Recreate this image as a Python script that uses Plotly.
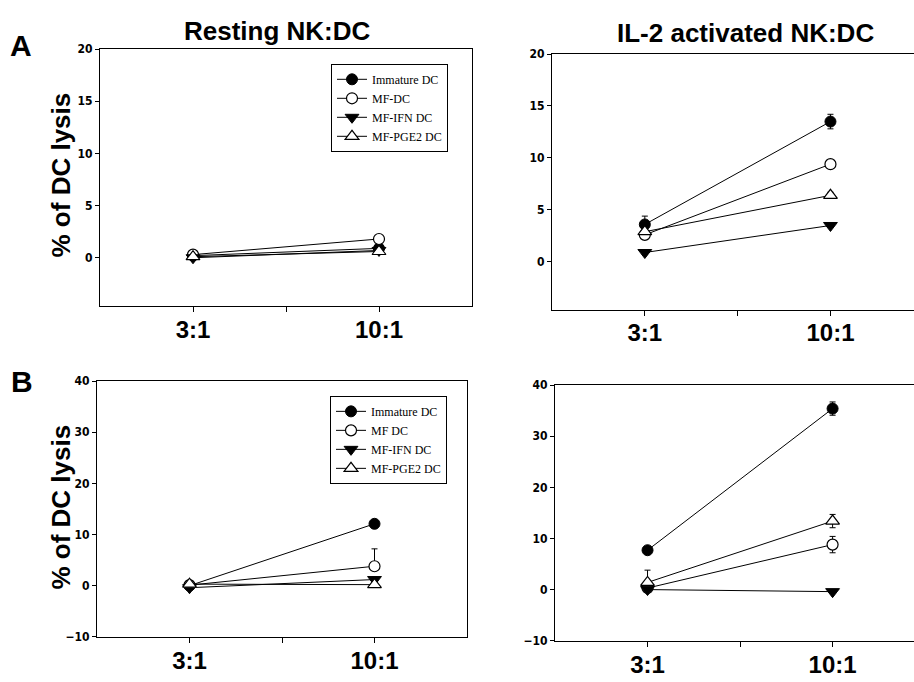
import plotly.graph_objects as go

# ---------------- data ----------------
ratios = ["3:1", "10:1"]
ratio_pos = [0, 1]
series_A = ["Immature DC", "MF-DC", "MF-IFN DC", "MF-PGE2 DC"]
series_B = ["Immature DC", "MF DC", "MF-IFN DC", "MF-PGE2 DC"]

# Panel A, resting NK:DC
a_rest_immature = [0.2, 0.9]
a_rest_mfdc = [0.3, 1.8]
a_rest_ifn = [0.0, 0.7]
a_rest_pge2 = [0.1, 0.6]
a_rest_err_up = [[0.1, 0.2], [0.1, 0.2], [0.1, 0.2], [0.1, 0.2]]
a_rest_err_dn = [[0.1, 0.2], [0.1, 0.2], [0.1, 0.2], [0.1, 0.2]]

# Panel A, IL-2 activated NK:DC
a_il2_immature = [3.6, 13.5]
a_il2_mfdc = [2.6, 9.4]
a_il2_ifn = [0.9, 3.5]
a_il2_pge2 = [2.9, 6.4]
a_il2_err_up = [[0.8, 0.7], [0.3, 0.3], [0.2, 0.2], [0.2, 0.3]]
a_il2_err_dn = [[0.3, 0.7], [0.3, 0.3], [0.2, 0.2], [0.2, 0.3]]

# Panel B, resting NK:DC
b_rest_immature = [0.0, 12.1]
b_rest_mfdc = [0.1, 3.8]
b_rest_ifn = [-0.4, 1.2]
b_rest_pge2 = [0.3, 0.2]
b_rest_err_up = [[0.3, 0.5], [0.3, 3.4], [0.3, 0.5], [0.3, 0.5]]
b_rest_err_dn = [[0.3, 0.5], [0.3, 0.3], [0.3, 0.5], [0.3, 0.5]]

# Panel B, IL-2 activated NK:DC
b_il2_immature = [7.7, 35.4]
b_il2_mfdc = [0.3, 8.8]
b_il2_ifn = [0.0, -0.4]
b_il2_pge2 = [1.4, 13.4]
b_il2_err_up = [[0.5, 1.3], [0.3, 1.6], [0.3, 0.3], [2.4, 1.3]]
b_il2_err_dn = [[0.5, 1.3], [0.3, 1.6], [0.3, 0.3], [0.5, 1.3]]

y_ticks_A = [0, 5, 10, 15, 20]
y_ticks_B = [-10, 0, 10, 20, 30, 40]

# ---------------- styles ----------------
marker_styles = [
    dict(symbol="circle", size=11, color="black", line=dict(color="black", width=1)),
    dict(symbol="circle", size=11, color="white", line=dict(color="black", width=1.2)),
    dict(symbol="triangle-down", size=12, color="black", line=dict(color="black", width=1)),
    dict(symbol="triangle-up", size=12, color="white", line=dict(color="black", width=1.2)),
]

SANS = "Liberation Sans, Arial, sans-serif"
NARROW = "DejaVu Sans Condensed, Liberation Sans Narrow, Arial Narrow, sans-serif"
SERIF = "Liberation Serif, Times New Roman, serif"

fig = go.Figure()

panels = [
    ([a_rest_immature, a_rest_mfdc, a_rest_ifn, a_rest_pge2], a_rest_err_up, a_rest_err_dn,
     "x", "y", series_A, "legend", True),
    ([a_il2_immature, a_il2_mfdc, a_il2_ifn, a_il2_pge2], a_il2_err_up, a_il2_err_dn,
     "x2", "y2", series_A, "legend", False),
    ([b_rest_immature, b_rest_mfdc, b_rest_ifn, b_rest_pge2], b_rest_err_up, b_rest_err_dn,
     "x3", "y3", series_B, "legend2", True),
    ([b_il2_immature, b_il2_mfdc, b_il2_ifn, b_il2_pge2], b_il2_err_up, b_il2_err_dn,
     "x4", "y4", series_B, "legend2", False),
]

for vals, eup, edn, xa, ya, names, leg, show in panels:
    for i, v in enumerate(vals):
        fig.add_trace(go.Scatter(
            x=ratio_pos, y=v, mode="lines+markers", name=names[i],
            xaxis=xa, yaxis=ya, legend=leg, showlegend=show,
            line=dict(color="black", width=1),
            marker=marker_styles[i],
            error_y=dict(type="data", symmetric=False, array=eup[i], arrayminus=edn[i],
                         color="black", thickness=1, width=3),
            cliponaxis=False,
        ))

W, H = 914, 682


def xd(a, b):
    return [a / W, min(b / W, 1.0)]


def yd(top, bottom):
    return [1 - bottom / H, 1 - top / H]


xax_common = dict(
    tickvals=[0, 0.5, 1], ticktext=[ratios[0], "", ratios[1]],
    ticks="outside", ticklen=5, tickcolor="black", tickwidth=1,
    ticklabelstandoff=-3,
    showline=True, linecolor="black", linewidth=1, mirror=True,
    showgrid=False, zeroline=False,
    tickfont=dict(family=SANS, size=24, color="black", weight="bold"),
)
yax_common = dict(
    ticks="outside", ticklen=4, tickcolor="black", tickwidth=1,
    showline=True, linecolor="black", linewidth=1,
    showgrid=False, zeroline=False,
    tickfont=dict(family=NARROW, size=12, color="black", weight="bold"),
)

fig.update_layout(
    width=W, height=H,
    margin=dict(l=0, r=0, t=0, b=0),
    paper_bgcolor="white", plot_bgcolor="white",
    xaxis=dict(domain=xd(100, 472), range=[-0.5, 1.5], anchor="y", **xax_common),
    yaxis=dict(domain=yd(43, 305), range=[-4.6, 20], tickvals=y_ticks_A, anchor="x",
               mirror=True, **yax_common),
    xaxis2=dict(domain=xd(552, 914), range=[-0.5, 1.45], anchor="y2", **xax_common),
    yaxis2=dict(domain=yd(48, 309), range=[-4.6, 20], tickvals=y_ticks_A, anchor="x2",
                mirror=False, **yax_common),
    xaxis3=dict(domain=xd(97, 467), range=[-0.5, 1.5], anchor="y3", **xax_common),
    yaxis3=dict(domain=yd(382, 643), range=[-10, 40], tickvals=y_ticks_B, anchor="x3",
                mirror=True, **yax_common),
    xaxis4=dict(domain=xd(555, 914), range=[-0.5, 1.44], anchor="y4", **xax_common),
    yaxis4=dict(domain=yd(386, 647), range=[-10, 40], tickvals=y_ticks_B, anchor="x4",
                mirror=False, **yax_common),
    legend=dict(x=331 / W, y=1 - 58 / H, xanchor="left", yanchor="top",
                bgcolor="white", bordercolor="black", borderwidth=1,
                font=dict(family=SERIF, size=12, color="black"),
                itemwidth=30, tracegroupgap=0),
    legend2=dict(x=330 / W, y=1 - 397 / H, xanchor="left", yanchor="top",
                 bgcolor="white", bordercolor="black", borderwidth=1,
                 font=dict(family=SERIF, size=12, color="black"),
                 itemwidth=30, tracegroupgap=0),
)

ann = [
    dict(text="Resting NK:DC", x=277 / W, y=1 - 24 / H, size=26),
    dict(text="IL-2 activated NK:DC", x=745 / W, y=1 - 27 / H, size=26),
    dict(text="A", x=21 / W, y=1 - 39 / H, size=30),
    dict(text="B", x=22 / W, y=1 - 382 / H, size=30),
]
for a in ann:
    fig.add_annotation(text=a["text"], x=a["x"], y=a["y"], xref="paper", yref="paper",
                       xanchor="center", yanchor="middle", showarrow=False,
                       font=dict(family=SANS, size=a["size"], color="black", weight="bold"))

for yc in (172, 511):
    fig.add_annotation(text="% of DC lysis", x=61 / W, y=1 - yc / H, xref="paper", yref="paper",
                       xanchor="center", yanchor="middle", showarrow=False, textangle=-90,
                       font=dict(family=SANS, size=26, color="black", weight="bold"))

fig.write_html("out.html",
               config={"displayModeBar": False},
               post_script="document.body.style.margin='0';document.body.style.overflow='hidden';")
